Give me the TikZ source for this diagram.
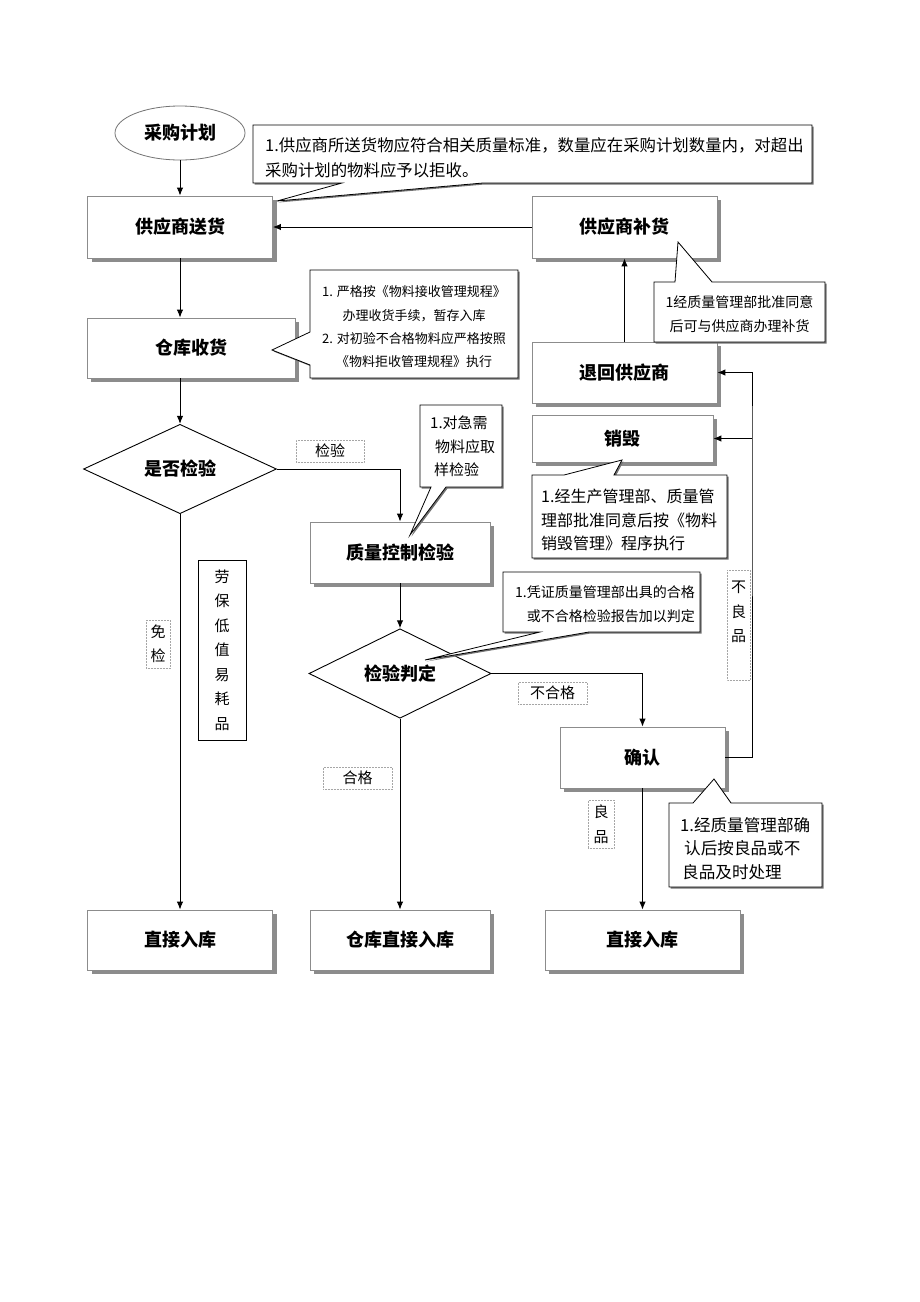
\documentclass[tikz,border=0pt]{standalone}
\usepackage{fontspec}
\setmainfont{Noto Sans CJK SC}
\usetikzlibrary{shapes.geometric,shadows,arrows.meta}
\tikzstyle{proc}=[rectangle, draw=black!45, line width=0.8pt, fill=white, inner sep=0pt, drop shadow={shadow xshift=4pt, shadow yshift=-4pt, fill=black!45, opacity=1}, font=\fontsize{18}{21}\selectfont\bfseries]
\tikzstyle{decide}=[diamond, draw=black, line width=0.9pt, fill=white, inner sep=0pt, font=\fontsize{18}{21}\selectfont\bfseries]
\tikzstyle{start}=[ellipse, draw=black!55, line width=0.8pt, fill=white, inner sep=0pt, minimum width=130pt, minimum height=54pt, font=\fontsize{18}{21}\selectfont\bfseries]
\tikzstyle{edge}=[-{Latex[length=8pt,width=6.5pt]}, line width=1pt]
\tikzstyle{tag}=[rectangle, draw=black!35, densely dotted, line width=0.5pt, inner sep=0pt, align=center, font=\fontsize{15}{24.5}\selectfont]
\tikzstyle{solidtag}=[rectangle, draw=black, line width=0.8pt, inner sep=0pt, align=center, font=\fontsize{15}{24.5}\selectfont]
\tikzstyle{lbtext}=[inner sep=0pt, align=center, font=\fontsize{15}{24.5}\selectfont]
\tikzstyle{note}=[draw=black, line width=0.8pt, fill=white, line join=miter, drop shadow={shadow xshift=1.5pt, shadow yshift=-1.5pt, fill=black!55, opacity=1}]
\tikzstyle{notetext}=[inner sep=0pt, font=\fontsize{14.5}{25}\selectfont]

\begin{document}
\begin{tikzpicture}[x=1pt,y=-1pt]
\useasboundingbox (0,0) rectangle (920,1302);

%The process boxes
\draw (180,133) node[start] (plan) {采购计划};
\draw (180,227) node[proc, minimum width=185pt, minimum height=62pt] (deliver) {供应商送货};
\draw (624.5,227) node[proc, minimum width=185pt, minimum height=62pt] (resupply) {供应商补货};
\draw (191,348) node[proc, minimum width=208pt, minimum height=60pt] (receive) {仓库收货};
\draw (624.5,372.5) node[proc, minimum width=185pt, minimum height=61pt] (giveback) {退回供应商};
\draw (622.5,438.5) node[proc, minimum width=181pt, minimum height=47pt] (destroy) {销毁};
\draw (180,469) node[decide, minimum width=193pt, minimum height=58pt] (check) {是否检验};
\draw (400,552.5) node[proc, minimum width=180pt, minimum height=61pt] (qc) {质量控制检验};
\draw (400,673.5) node[decide, minimum width=182pt, minimum height=57pt] (judge) {检验判定};
\draw (642.5,757.5) node[proc, minimum width=165pt, minimum height=61pt] (confirm) {确认};
\draw (180,940) node[proc, minimum width=185pt, minimum height=60pt] (direct1) {直接入库};
\draw (400,940) node[proc, minimum width=180pt, minimum height=60pt] (store) {仓库直接入库};
\draw (642.5,940) node[proc, minimum width=195pt, minimum height=60pt] (direct2) {直接入库};

%The flow
\draw[edge] (plan.south) -- (plan.south |- deliver.north);
\draw[edge] (deliver.south) -- (deliver.south |- receive.north);
\draw[edge] (receive.south -| deliver.south) -- (check.north);
\draw[edge] (check.south) -- (direct1.north);
\draw[edge] (check.east) -| (qc.north);
\draw[edge] (qc.south) -- (judge.north);
\draw[edge] (judge.south) -- (store.north);
\draw[edge] (judge.east) -| (confirm.north);
\draw[edge] (confirm.south) -- (direct2.north);
\coordinate (rail) at (752,438.5);
\draw[edge] (confirm.east) -| (rail) |- (giveback.east);
\draw[edge] (rail) -- (destroy.east);
\draw[edge] (giveback.north) -- (resupply.south);
\draw[edge] (resupply.west) -- (deliver.east);

%The branch labels
\draw (330,451) node[tag, minimum width=68pt, minimum height=22pt] (lbcheck) {检验};
\draw (158,644) node[tag, minimum width=24pt, minimum height=48pt] (lbfree) {免\\检};
\draw (222,650) node[solidtag, minimum width=48pt, minimum height=180pt] (lbcheap) {劳\\保\\低\\值\\易\\耗\\品};
\draw (552.5,693) node[tag, minimum width=69pt, minimum height=22pt] (lbfail) {不合格};
\draw (357.5,778) node[tag, minimum width=69pt, minimum height=22pt] (lbpass) {合格};
\draw (601,824) node[tag, minimum width=26pt, minimum height=48pt] (lbgood) {良\\品};
\draw[tag] (727,570) rectangle (750,680);
\draw (738.5,612) node[lbtext] (lbbad) {不\\良\\品};

%The notes
\draw[note] (253,125) -- (812,125) -- (812,183) -- (483,183) -- (277,201) -- (342,183) -- (253,183) -- cycle;
\draw (265,157.5) node[notetext, anchor=west, text width=545pt, align=left, font=\fontsize{16.4}{25}\selectfont] (note1) {1.供应商所送货物应符合相关质量标准，数量应在采购计划数量内，对超出\\采购计划的物料应予以拒收。};

\draw[note] (310,270) -- (518,270) -- (518,378) -- (310,378) -- (310,365) -- (272,350) -- (310,332) -- cycle;
\draw (414,327) node[notetext, align=center, font=\fontsize{13}{23.3}\selectfont] (note2) {1. 严格按《物料接收管理规程》\\办理收货手续，暂存入库\\2. 对初验不合格物料应严格按照\\《物料拒收管理规程》执行};

\draw[note] (420,405) -- (502,405) -- (502,487) -- (446,487) -- (410,535) -- (431,487) -- (420,487) -- cycle;
\draw (430,446.5) node[notetext, anchor=west, align=left, font=\fontsize{15}{23.5}\selectfont] (note3) {1.对急需\\\hspace*{5pt}物料应取\\\hspace*{4pt}样检验};

\draw[note] (503,572) -- (700,572) -- (700,632) -- (589,632) -- (425,660) -- (540,632) -- (503,632) -- cycle;
\draw (695,604) node[notetext, anchor=east, align=right, font=\fontsize{14}{24}\selectfont] (note4) {1.凭证质量管理部出具的合格\\或不合格检验报告加以判定};

\draw[note] (654,282) -- (675,282) -- (678,242) -- (712,282) -- (825,282) -- (825,342) -- (654,342) -- cycle;
\draw (739.5,314) node[notetext, align=center, font=\fontsize{14}{24}\selectfont] (note6) {1经质量管理部批准同意\\后可与供应商办理补货};

\draw[note] (532,475) -- (564,475) -- (622,460) -- (614,475) -- (727,475) -- (727,558) -- (532,558) -- cycle;
\draw (541,520) node[notetext, anchor=west, align=left, font=\fontsize{16}{23.5}\selectfont] (note7) {1.经生产管理部、质量管\\理部批准同意后按《物料\\销毁管理》程序执行};

\draw[note] (669,803) -- (693,803) -- (714,779) -- (731,803) -- (822,803) -- (822,887) -- (669,887) -- cycle;
\draw (680,848.5) node[notetext, anchor=west, align=left, font=\fontsize{16.6}{23.5}\selectfont] (note5) {1.经质量管理部确\\\hspace*{4pt}认后按良品或不\\\hspace*{2pt}良品及时处理};
\end{tikzpicture}
\end{document}
